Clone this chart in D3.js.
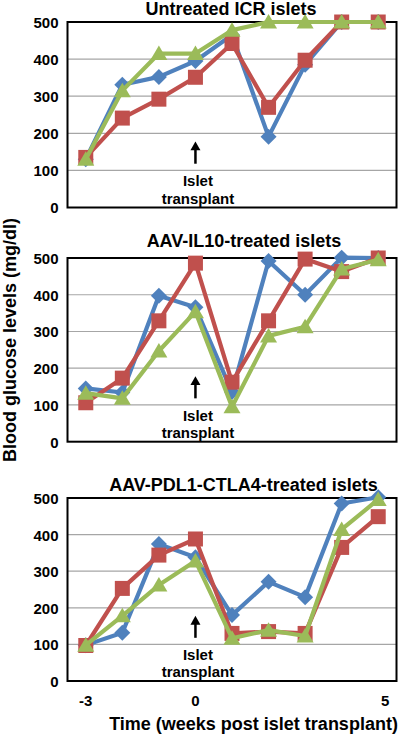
<!DOCTYPE html>
<html><head><meta charset="utf-8">
<script src="https://cdn.jsdelivr.net/npm/d3@7"></script>
<style>
html,body{margin:0;padding:0;background:#fff;}
svg{display:block;font-family:"Liberation Sans",Arial,sans-serif;font-weight:bold;}
</style></head>
<body>
<svg id="chart" width="400" height="735"></svg>
<script>
// ---- data ----
const weeks = [-3, -2, -1, 0, 1, 2, 3, 4, 5];
const panelTitles = ["Untreated ICR islets", "AAV-IL10-treated islets", "AAV-PDL1-CTLA4-treated islets"];
const seriesNames = ["Mouse 1", "Mouse 2", "Mouse 3"];
const untreatedBlue  = [130, 331, 352, 395, 465, 191, 385, 500, 500];
const untreatedRed   = [135, 241, 292, 351, 442, 270, 397, 500, 500];
const untreatedGreen = [130, 315, 415, 415, 478, 500, 500, 500, 500];
const il10Blue  = [145, 134, 397, 366, 135, 492, 400, 501, 500];
const il10Red   = [106, 173, 329, 486, 162, 329, 497, 463, 500];
const il10Green = [132, 118, 247, 354, 95, 288, 313, 470, 495];
const pdlBlue  = [98, 132, 374, 338, 180, 271, 229, 485, 502];
const pdlRed   = [97, 253, 344, 388, 130, 135, 130, 365, 449];
const pdlGreen = [98, 178, 262, 328, 117, 139, 123, 414, 496];
const yTicks = [0, 100, 200, 300, 400, 500];
const xTicks = [-3, 0, 5];
const xTickLabels = ["-3", "0", "5"];
const yAxisTitle = "Blood glucose levels (mg/dl)";
const xAxisTitle = "Time (weeks post islet transplant)";
const annotationLines = ["Islet", "transplant"];

// ---- style / layout ----
const colors = ["#4F81BD", "#C0504D", "#9BBB59"];
const shapes = ["diamond", "square", "triangle"];
const panels = [
  {title: panelTitles[0], series: [untreatedBlue, untreatedRed, untreatedGreen], top: 22, bottom: 207.5, titleX: 231, titleY: 15},
  {title: panelTitles[1], series: [il10Blue, il10Red, il10Green], top: 258, bottom: 441.7, titleX: 244, titleY: 247},
  {title: panelTitles[2], series: [pdlBlue, pdlRed, pdlGreen], top: 498, bottom: 681, titleX: 243.5, titleY: 491}
];
const plotLeft = 67.5, plotRight = 396.5;

const svg = d3.select("#chart");
const x = d3.scaleLinear().domain([-3.5, 5.5]).range([plotLeft, plotRight]);

function markerPath(shape) {
  const p = d3.path();
  if (shape === "diamond") {
    p.moveTo(0, -8); p.lineTo(8, 0); p.lineTo(0, 8); p.lineTo(-8, 0); p.closePath();
  } else if (shape === "square") {
    p.rect(-7.5, -7.5, 15, 15);
  } else {
    p.moveTo(0, -8); p.lineTo(8.5, 6.5); p.lineTo(-8.5, 6.5); p.closePath();
  }
  return p.toString();
}

panels.forEach((pn, pi) => {
  const y = d3.scaleLinear().domain([0, 500]).range([pn.bottom, pn.top]);
  const g = svg.append("g");

  // gridlines
  g.append("g").selectAll("line").data(yTicks.filter(t => t > 0 && t < 500)).join("line")
    .attr("x1", plotLeft).attr("x2", plotRight)
    .attr("y1", d => y(d)).attr("y2", d => y(d))
    .attr("stroke", "#a6a6a6").attr("stroke-width", 1.2);

  // y axis labels
  const yAxis = d3.axisLeft(y).tickValues(yTicks).tickSize(0).tickPadding(9).tickFormat(d3.format("d"));
  const ya = g.append("g").attr("transform", `translate(${plotLeft},0)`).call(yAxis);
  ya.select(".domain").remove();
  ya.selectAll("text").attr("font-size", 15).attr("font-weight", "bold").attr("fill", "#000")
    .attr("font-family", "Liberation Sans, Arial, sans-serif").attr("dy", "0.36em");

  // box
  g.append("rect").attr("x", plotLeft).attr("y", y(500)).attr("width", plotRight - plotLeft)
    .attr("height", y(0) - y(500)).attr("fill", "none").attr("stroke", "#000").attr("stroke-width", 2);

  // title
  g.append("text").attr("x", pn.titleX).attr("y", pn.titleY).attr("text-anchor", "middle")
    .attr("font-size", 18).text(pn.title);

  // annotation arrow + text
  const ax = x(0);
  g.append("line").attr("x1", ax).attr("x2", ax).attr("y1", y(118)).attr("y2", y(162))
    .attr("stroke", "#000").attr("stroke-width", 2.5);
  g.append("path").attr("d", `M${ax},${y(178)} L${ax + 5},${y(154)} L${ax - 5},${y(154)} Z`).attr("fill", "#000");
  g.append("text").attr("x", ax + 2.5).attr("y", y(57)).attr("text-anchor", "middle").attr("font-size", 15).text(annotationLines[0]);
  g.append("text").attr("x", ax + 2.5).attr("y", y(10)).attr("text-anchor", "middle").attr("font-size", 15).text(annotationLines[1]);

  // series
  const line = d3.line().x((d, i) => x(weeks[i])).y(d => y(d));
  pn.series.forEach((vals, si) => {
    const sg = g.append("g").attr("class", "series").attr("data-name", seriesNames[si]);
    sg.append("path").datum(vals).attr("d", line).attr("fill", "none")
      .attr("stroke", colors[si]).attr("stroke-width", 4.2).attr("stroke-linejoin", "round");
    sg.selectAll("path.m").data(vals).join("path").attr("class", "m")
      .attr("d", markerPath(shapes[si]))
      .attr("transform", (d, i) => `translate(${x(weeks[i])},${y(d)})`)
      .attr("fill", colors[si]);
  });

  // x tick labels on bottom panel only
  if (pi === panels.length - 1) {
    g.append("g").selectAll("text").data(xTicks).join("text")
      .attr("x", (d, i) => x(d) + (i === xTicks.length - 1 ? 7 : 0))
      .attr("y", pn.bottom + 25).attr("text-anchor", "middle").attr("font-size", 15)
      .text((d, i) => xTickLabels[i]);
  }
});

// axis titles
svg.append("text").attr("x", 253.5).attr("y", 730).attr("text-anchor", "middle")
  .attr("font-size", 18).text(xAxisTitle);
svg.append("text").attr("transform", "translate(16,340) rotate(-90)").attr("text-anchor", "middle")
  .attr("font-size", 18).text(yAxisTitle);
</script>
</body></html>
